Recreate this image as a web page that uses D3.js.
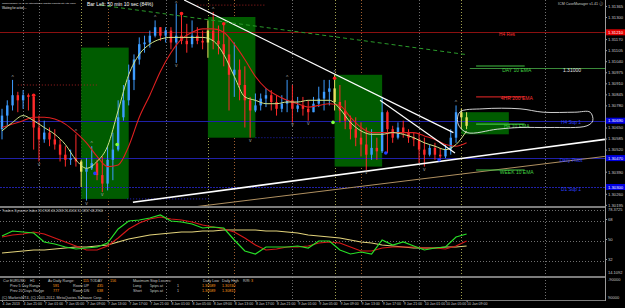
<!DOCTYPE html>
<html lang="en">
  <head>
    <script src="https://d3js.org/d3.v7.min.js"></script>
    <meta charset="UTF-8" />
    <title>EURUSD H1</title>
    <style>
      body { margin: 0; background: #000; }
      svg text { font-family: "Liberation Sans", Arial, sans-serif; }
    </style>
  </head>
  <body>
    <svg width="625" height="308"></svg>
    <script>
      // ---- data ----
      var timeLabels = ["4 Jan 2013", "4 Jan 21:00", "7 Jan 01:00", "7 Jan 05:00", "7 Jan 09:00", "7 Jan 13:00",
        "7 Jan 17:00", "7 Jan 21:00", "8 Jan 01:00", "8 Jan 05:00", "8 Jan 09:00", "8 Jan 13:00", "8 Jan 17:00",
        "8 Jan 21:00", "9 Jan 01:00", "9 Jan 05:00", "9 Jan 09:00", "9 Jan 13:00", "9 Jan 17:00", "9 Jan 21:00",
        "10 Jan 01:00", "10 Jan 05:00", "10 Jan 09:00"];

      var priceTicks = [1.31365, 1.31300, 1.31235, 1.31170, 1.31105, 1.31040, 1.30975, 1.30910, 1.30845, 1.30780,
        1.30715, 1.30650, 1.30585, 1.30520, 1.30455, 1.30390, 1.30325, 1.30260, 1.30195];
      var tdiTicks = [68, 50, 32];

      // hourly bars [open, high, low, close]
      var candles = [
        [1.3064,1.3076,1.3058,1.3072],[1.3072,1.3081,1.3066,1.3078],[1.3078,1.3093,1.3075,1.3084],
        [1.3084,1.3086,1.3074,1.3081],[1.3081,1.3087,1.3076,1.3084],[1.3084,1.3085,1.3075,1.3083],
        [1.3083,1.3084,1.3052,1.3065],[1.3065,1.3072,1.3045,1.3058],[1.3058,1.3069,1.3056,1.3062],
        [1.3062,1.3065,1.3054,1.3058],[1.3058,1.3064,1.3052,1.3055],[1.3055,1.3058,1.3045,1.3049],
        [1.3049,1.3054,1.3042,1.3046],[1.3046,1.3052,1.3043,1.3047],[1.3047,1.3061,1.3042,1.3045],
        [1.3045,1.3046,1.3030,1.3039],[1.3039,1.3047,1.3022,1.3041],[1.3041,1.3054,1.3040,1.3044],
        [1.3044,1.3046,1.3034,1.3037],[1.3037,1.3048,1.3027,1.3032],[1.3032,1.3054,1.3028,1.3046],
        [1.3046,1.3062,1.3034,1.3052],[1.3052,1.3081,1.3051,1.3071],[1.3071,1.3090,1.3069,1.3081],
        [1.3081,1.3102,1.3078,1.3093],[1.3093,1.3108,1.3087,1.3105],[1.3105,1.3118,1.3102,1.3114],
        [1.3114,1.3119,1.3109,1.3115],[1.3115,1.3122,1.3112,1.3119],[1.3119,1.3128,1.3118,1.3124],
        [1.3124,1.3124,1.3116,1.3119],[1.3119,1.3124,1.3115,1.3122],[1.3122,1.3124,1.3111,1.3115],
        [1.3115,1.3138,1.3103,1.3119],[1.3119,1.3132,1.3114,1.3116],[1.3116,1.3126,1.3109,1.3114],
        [1.3114,1.3128,1.3112,1.3119],[1.3119,1.3124,1.3114,1.3116],[1.3116,1.3122,1.3111,1.3115],
        [1.3115,1.3128,1.3106,1.3122],[1.3122,1.3133,1.3111,1.3116],[1.3116,1.3125,1.3108,1.3114],
        [1.3114,1.3126,1.3101,1.3108],[1.3108,1.3118,1.3075,1.3096],[1.3096,1.3115,1.3083,1.3099],
        [1.3099,1.3105,1.3081,1.3090],[1.3090,1.3101,1.3065,1.3081],[1.3081,1.3083,1.3059,1.3075],
        [1.3075,1.3085,1.3074,1.3078],[1.3078,1.3085,1.3075,1.3082],[1.3082,1.3088,1.3077,1.3084],
        [1.3084,1.3087,1.3075,1.3080],[1.3080,1.3084,1.3072,1.3076],[1.3076,1.3084,1.3074,1.3079],
        [1.3079,1.3093,1.3074,1.3081],[1.3081,1.3090,1.3068,1.3076],[1.3076,1.3083,1.3074,1.3078],
        [1.3078,1.3083,1.3072,1.3076],[1.3076,1.3081,1.3069,1.3074],[1.3074,1.3083,1.3074,1.3079],
        [1.3079,1.3089,1.3077,1.3082],[1.3082,1.3093,1.3075,1.3086],[1.3086,1.3093,1.3078,1.3088],
        [1.3088,1.3096,1.3075,1.3080],[1.3080,1.3090,1.3068,1.3075],[1.3075,1.3081,1.3064,1.3069],
        [1.3069,1.3072,1.3058,1.3064],[1.3064,1.3071,1.3054,1.3059],[1.3059,1.3068,1.3048,1.3055],
        [1.3055,1.3065,1.3040,1.3049],[1.3049,1.3064,1.3046,1.3053],[1.3053,1.3059,1.3046,1.3051],
        [1.3051,1.3083,1.3050,1.3074],[1.3074,1.3075,1.3050,1.3064],[1.3064,1.3066,1.3056,1.3059],
        [1.3059,1.3068,1.3058,1.3065],[1.3065,1.3069,1.3059,1.3062],[1.3062,1.3064,1.3056,1.3059],
        [1.3059,1.3062,1.3054,1.3058],[1.3058,1.3062,1.3044,1.3052],[1.3052,1.3059,1.3042,1.3049],
        [1.3049,1.3055,1.3048,1.3053],[1.3053,1.3056,1.3046,1.3049],[1.3049,1.3053,1.3046,1.3048],
        [1.3048,1.3055,1.3047,1.3052],[1.3052,1.3064,1.3049,1.3059],[1.3059,1.3078,1.3056,1.3074],
        [1.3074,1.3076,1.3064,1.3071],[1.3071,1.3074,1.3064,1.3066]
      ];
      var highlightBars = [15, 39, 63, 87, 88];

      // moving averages, one value every 2 bars
      var fastMA = [1.3063,1.3068,1.3072,1.3069,1.3065,1.3061,1.3055,1.3046,1.3041,1.3045,
        1.3054,1.3075,1.3096,1.3108,1.3114,1.3117,1.3118,1.3118,1.3118,1.3118,
        1.3116,1.3108,1.3095,1.3083,1.3081,1.3079,1.3079,1.3080,1.3080,1.3081,
        1.3081,1.3081,1.3076,1.3068,1.3063,1.3061,1.3061,1.3062,1.3061,1.3059,
        1.3056,1.3054,1.3052,1.3055,1.3063];
      var slowMA = [1.3065,1.3067,1.3069,1.3071,1.3071,1.3070,1.3067,1.3062,1.3056,1.3048,
        1.3042,1.3043,1.3054,1.3071,1.3084,1.3098,1.3109,1.3117,1.3121,1.3123,
        1.3123,1.3121,1.3114,1.3105,1.3095,1.3088,1.3084,1.3081,1.3079,1.3077,
        1.3078,1.3079,1.3078,1.3071,1.3065,1.3062,1.3062,1.3062,1.3062,1.3062,
        1.3060,1.3058,1.3055,1.3054,1.3056];

      // Traders Dynamic Index, one value every 2 bars
      var tdiGreen = [52.7,57.2,56.3,55.4,47.3,45.5,42.8,41.0,41.9,42.8,46.4,59.0,66.2,67.1,68.9,71.6,66.2,65.3,63.5,59.9,
        60.8,59.9,49.1,39.2,36.5,42.8,42.8,42.8,43.7,41.9,48.2,48.2,40.1,36.5,38.3,36.5,49.1,44.6,47.3,43.7,
        40.1,41.9,42.8,51.8,54.5];
      var tdiRed = [51.8,53.6,54.5,56.3,54.5,50.9,47.3,43.7,40.1,40.1,43.7,50.9,59.0,64.4,68.0,69.8,68.0,67.1,65.3,62.6,
        60.8,59.0,56.3,50.9,44.6,40.1,41.0,42.8,42.8,43.7,46.4,47.3,46.4,42.8,39.2,39.2,41.9,42.8,42.8,42.8,
        41.9,41.9,41.0,43.7,48.2];
      var tdiYellow = [37.4,38.3,39.2,40.1,40.1,41.0,41.9,42.8,42.8,43.7,44.6,47.3,50.0,51.8,53.6,54.5,55.4,56.3,56.3,57.2,
        57.2,58.1,58.1,58.1,58.1,57.2,57.2,56.3,55.4,53.6,52.7,51.8,50.9,49.1,47.3,46.4,44.6,43.7,42.8,41.9,
        41.9,41.9,42.8,42.8,43.7];

      // London session boxes (start bar, end bar, high, low)
      var sessionStart = [15, 39, 63, 87];
      var sessionEnd = [24, 48, 72, 96];
      var sessionHigh = [1.3112, 1.3130, 1.3096, 1.3074];
      var sessionLow = [1.3023, 1.3059, 1.3042, 1.3061];

      // pivot levels and EMA markers
      var pivotNames = ["H4 Res", "H4 Sup 1", "Daily Pivot", "D1 Sup 1"];
      var pivotPrices = [1.3121, 1.3069, 1.3047, 1.3030];
      var emaNames = ["DAY 10 EMA", "4HR 200 EMA", "H4 10 EMA", "WEEK 10 EMA"];
      var emaPrices = [1.3100, 1.3083, 1.3067, 1.3040];

      // drawn trend lines [bar, price] -> [bar, price]
      var trendWhite = [[[34.5, 1.3140], [85.5, 1.3062]], [[71.6, 1.3081], [85.8, 1.3050]], [[24.8, 1.3021], [114.2, 1.3058]]];
      var trendTan = [[35.6, 1.3018], [114.2, 1.3048]];
      var trendGreen = [[18.6, 1.3137], [87.7, 1.3108]];
      var ovalPoints = [[86.7,1.3074],[91.1,1.3076],[98.1,1.3076],[102.5,1.3074],[108.5,1.3074],[111.4,1.3074],
        [111.9,1.3069],[110.8,1.3066],[103.8,1.3065],[98.1,1.3065],[93.8,1.3064],[88.1,1.3062],[86.4,1.3067]];

      // fractal arrows and signal dots
      var fractalUp = [2, 14, 17, 29, 33, 40, 54, 63, 86];
      var fractalDown = [7, 16, 19, 33, 47, 55, 58, 69, 80];
      var redDots = [[6, 1.3084], [34, 1.3132], [42, 1.3126], [63, 1.3094]];
      var blueDots = [[17.6, 1.3038], [72.7, 1.3050], [82.8, 1.3046]];
      var greenDots = [[21.8, 1.3055], [62.7, 1.3068]];

      var dayBars = [7, 31, 55, 79];
      var londonBars = [15, 39, 63, 87];
      var nyBars = [20, 44, 68];

      // ---- scales ----
      var svg = d3.select("svg");
      svg.append("rect").attr("width", 625).attr("height", 308).attr("fill", "#000");

      var x = d3.scaleLinear().domain([0, 88]).range([2, 466.6]);
      var yP = d3.scaleLinear().domain([1.3019, 1.3140]).range([205.7, 0]);
      var yT = d3.scaleLinear().domain([16.7, 77.9]).range([276, 208]);
      var axisX = 605;

      var defs = svg.append("defs");
      defs.append("clipPath").attr("id", "cm").append("rect").attr("width", axisX).attr("height", 206);
      defs.append("clipPath").attr("id", "ci").append("rect").attr("y", 207).attr("width", axisX).attr("height", 69);

      var main = svg.append("g").attr("clip-path", "url(#cm)");
      var ind = svg.append("g").attr("clip-path", "url(#ci)");

      // vertical separators in all panels
      function vlines(bars, color) {
        [[main, 0, 206], [ind, 207, 276], [svg, 277, 300]].forEach(function (p) {
          p[0].selectAll(null).data(bars).enter().append("line")
            .attr("x1", function (d) { return Math.round(x(d)) + 0.5; })
            .attr("x2", function (d) { return Math.round(x(d)) + 0.5; })
            .attr("y1", p[1]).attr("y2", p[2])
            .attr("stroke", color).attr("stroke-width", 1).attr("stroke-dasharray", "1,2");
        });
      }
      vlines(dayBars.concat([4, 102.9]), "#707070");
      vlines(londonBars, "#a0a050");
      vlines(nyBars, "#a06030");

      // session boxes
      main.selectAll(".sess").data(sessionStart).enter().append("rect")
        .attr("x", function (d) { return x(d); })
        .attr("width", function (d, i) { return x(sessionEnd[i]) - x(d); })
        .attr("y", function (d, i) { return yP(sessionHigh[i]); })
        .attr("height", function (d, i) { return yP(sessionLow[i]) - yP(sessionHigh[i]); })
        .attr("fill", "#005c00");

      // pivot lines
      main.selectAll(".piv").data(pivotPrices).enter().append("line")
        .attr("x1", 0).attr("x2", axisX)
        .attr("y1", function (d) { return Math.round(yP(d)) + 0.5; })
        .attr("y2", function (d) { return Math.round(yP(d)) + 0.5; })
        .attr("stroke", function (d, i) { return i == 0 ? "#8b1010" : "#2020a8"; })
        .attr("stroke-dasharray", function (d, i) { return i == 3 ? "2,1" : null; });

      // short dotted previous-range marks
      main.append("line").attr("x1", x(3)).attr("x2", x(18)).attr("y1", yP(1.3090)).attr("y2", yP(1.3090))
        .attr("stroke", "#a02020").attr("stroke-dasharray", "1,2");
      main.append("line").attr("x1", x(37)).attr("x2", x(50)).attr("y1", yP(1.3137)).attr("y2", yP(1.3137))
        .attr("stroke", "#a02020").attr("stroke-dasharray", "1,2");
      main.append("line").attr("x1", x(48)).attr("x2", x(63)).attr("y1", yP(1.3059)).attr("y2", yP(1.3059))
        .attr("stroke", "#2020c0").attr("stroke-dasharray", "1,2");
      main.append("line").attr("x1", x(23.7)).attr("x2", x(39.4)).attr("y1", yP(1.3023)).attr("y2", yP(1.3023))
        .attr("stroke", "#2020c0").attr("stroke-dasharray", "1,2");

      // candles
      var bars = main.append("g");
      candles.forEach(function (c, i) {
        var col = c[3] >= c[0] ? "#3d9cff" : "#ff2a2a";
        if (highlightBars.indexOf(i) >= 0) col = "#e8e060";
        var cx = x(i);
        bars.append("line").attr("x1", cx).attr("x2", cx)
          .attr("y1", yP(c[1])).attr("y2", yP(c[2]))
          .attr("stroke", col).attr("stroke-width", 1);
        var top = Math.min(yP(c[0]), yP(c[3]));
        bars.append("rect").attr("x", cx - 1.2).attr("width", 2.4)
          .attr("y", top).attr("height", Math.max(1, Math.abs(yP(c[0]) - yP(c[3]))))
          .attr("fill", col);
      });

      // moving averages
      var maLine = d3.line()
        .x(function (d, k) { return x(2 * k); })
        .y(function (d) { return yP(d); })
        .curve(d3.curveMonotoneX);
      main.append("path").attr("d", maLine(slowMA)).attr("fill", "none").attr("stroke", "#e02020").attr("stroke-width", 1.1);
      main.append("path").attr("d", maLine(fastMA)).attr("fill", "none").attr("stroke", "#cfe58a").attr("stroke-width", 1);

      // trend lines
      function seg(pair) {
        return "M" + x(pair[0][0]) + "," + yP(pair[0][1]) + "L" + x(pair[1][0]) + "," + yP(pair[1][1]);
      }
      trendWhite.forEach(function (t, i) {
        main.append("path").attr("d", seg(t)).attr("stroke", "#ffffff").attr("stroke-width", i == 2 ? 1.6 : 1.2);
      });
      main.append("path").attr("d", seg(trendTan)).attr("stroke", "#b09060").attr("stroke-width", 1);
      main.append("path").attr("d", seg(trendGreen)).attr("stroke", "#2a9a2a").attr("stroke-width", 1)
        .attr("stroke-dasharray", "4,3");

      // EMA markers
      main.append("line").attr("x1", x(88.6)).attr("x2", axisX)
        .attr("y1", Math.round(yP(emaPrices[0])) + 0.5).attr("y2", Math.round(yP(emaPrices[0])) + 0.5)
        .attr("stroke", "#3a8a3a");
      main.selectAll(".ema").data(emaPrices).enter().append("line")
        .attr("x1", x(89.8)).attr("x2", x(99))
        .attr("y1", function (d, i) { return yP(d) - (i == 0 ? 2 : 0); })
        .attr("y2", function (d, i) { return yP(d) - (i == 0 ? 2 : 0); })
        .attr("stroke", function (d, i) { return i == 1 ? "#c02020" : "#40c040"; })
        .attr("stroke-width", 1.2);
      main.selectAll(".emat").data(emaNames).enter().append("text")
        .attr("x", x(97.5))
        .attr("y", function (d, i) { return yP(emaPrices[i]) + 3.5; })
        .attr("text-anchor", "middle").attr("font-size", 5)
        .attr("fill", function (d, i) { return i == 1 ? "#ff3030" : "#40d040"; })
        .text(function (d) { return d; });
      main.append("text").attr("x", 572).attr("y", yP(emaPrices[0]) + 3.5).attr("text-anchor", "middle")
        .attr("font-size", 5).attr("fill", "#e0e0e0").text(d3.format(".5f")(emaPrices[0]));

      // pivot labels
      main.selectAll(".pivt").data(pivotNames).enter().append("text")
        .attr("x", function (d, i) { return i == 0 ? 507 : 571; })
        .attr("y", function (d, i) { return yP(pivotPrices[i]) + 3.5; })
        .attr("text-anchor", "middle").attr("font-size", 4.8)
        .attr("fill", function (d, i) { return i == 0 ? "#ff3030" : "#3040ff"; })
        .text(function (d) { return d; });

      // hand drawn oval
      main.append("path")
        .attr("d", d3.line().x(function (d) { return x(d[0]); }).y(function (d) { return yP(d[1]); })
          .curve(d3.curveCatmullRomClosed)(ovalPoints))
        .attr("fill", "none").attr("stroke", "#e8e8e8").attr("stroke-width", 0.9);

      // fractals & dots
      main.selectAll(".fu").data(fractalUp).enter().append("text")
        .attr("x", function (d) { return x(d); })
        .attr("y", function (d) { return Math.max(4.5, yP(candles[d][1]) - 1); })
        .attr("text-anchor", "middle").attr("font-size", 5).attr("fill", "#a0a0a0").text("^");
      main.selectAll(".fd").data(fractalDown).enter().append("text")
        .attr("x", function (d) { return x(d); }).attr("y", function (d) { return yP(candles[d][2]) + 4; })
        .attr("text-anchor", "middle").attr("font-size", 5).attr("fill", "#a0a0a0").text("v");
      [[redDots, "#ff2020"], [blueDots, "#2040ff"], [greenDots, "#80ff40"]].forEach(function (g) {
        main.selectAll(null).data(g[0]).enter().append("circle")
          .attr("cx", function (d) { return x(d[0]); }).attr("cy", function (d) { return yP(d[1]); })
          .attr("r", 1.8).attr("fill", g[1]);
      });

      // ---- TDI panel ----
      ind.selectAll(".tg").data([77.9].concat(tdiTicks)).enter().append("line")
        .attr("x1", 0).attr("x2", axisX)
        .attr("y1", function (d) { return Math.round(yT(d)) + 2.5; })
        .attr("y2", function (d) { return Math.round(yT(d)) + 2.5; })
        .attr("stroke", "#707070").attr("stroke-dasharray", "1,2");
      var tdiLine = d3.line().x(function (d, k) { return x(2 * k); }).y(function (d) { return yT(d); });
      ind.append("path").attr("d", tdiLine(tdiYellow)).attr("fill", "none").attr("stroke", "#e2d27a").attr("stroke-width", 1.2);
      ind.append("path").attr("d", tdiLine(tdiRed)).attr("fill", "none").attr("stroke", "#d41818").attr("stroke-width", 1.2);
      ind.append("path").attr("d", tdiLine(tdiGreen)).attr("fill", "none").attr("stroke", "#28e028").attr("stroke-width", 1.2);
      svg.append("text").attr("x", 2).attr("y", 211.5).attr("font-size", 3.4).attr("fill", "#c8c8c8")
        .text("Traders Dynamic Index 33.1908 46.2458 26.2034 51.5857 48.2900");

      // ---- frames and axes ----
      [206.5, 207.5, 276.5, 277.5, 300.5].forEach(function (yy) {
        svg.append("line").attr("x1", 0).attr("x2", axisX).attr("y1", yy).attr("y2", yy)
          .attr("stroke", "#9a9a9a").attr("stroke-width", 0.8);
      });
      svg.append("line").attr("x1", axisX + 0.5).attr("x2", axisX + 0.5).attr("y1", 0).attr("y2", 301)
        .attr("stroke", "#9a9a9a");

      // price ticks hidden behind a level box are left out
      var freeTicks = priceTicks.filter(function (p) {
        return pivotPrices.every(function (q) { return Math.abs(yP(p) - yP(q)) > 5; });
      });
      var pAxis = svg.append("g").attr("transform", "translate(" + axisX + ",0)")
        .call(d3.axisRight(yP).tickValues(freeTicks).tickSize(2).tickFormat(d3.format(".5f")));
      var tAxis = svg.append("g").attr("transform", "translate(" + axisX + ",0)")
        .call(d3.axisRight(yT).tickValues(tdiTicks).tickSize(2).tickFormat(d3.format("d")));
      [pAxis, tAxis].forEach(function (a) {
        a.select(".domain").remove();
        a.selectAll("line").attr("stroke", "#9a9a9a");
        a.selectAll("text").attr("x", 3).attr("font-size", 4.2).attr("fill", "#c8c8c8")
          .attr("font-family", "Liberation Sans, Arial, sans-serif");
      });
      [["78.3725", 211], ["14.1092", 273.5], ["-90000", 281], ["90000", 299]].forEach(function (t) {
        svg.append("text").attr("x", axisX + 3).attr("y", t[1]).attr("font-size", 4).attr("fill", "#c8c8c8").text(t[0]);
      });

      // price boxes
      var boxes = svg.append("g");
      pivotPrices.forEach(function (p, i) {
        boxes.append("rect").attr("x", axisX + 1).attr("y", yP(p) - 3).attr("width", 19).attr("height", 6)
          .attr("fill", i == 0 ? "#e00000" : "#0000e0");
        boxes.append("text").attr("x", axisX + 3).attr("y", yP(p) + 1.6).attr("font-size", 4.2)
          .attr("fill", "#ffffff").text(d3.format(".5f")(p));
      });

      // time axis
      var ta = svg.append("g").attr("transform", "translate(0,300.5)")
        .call(d3.axisBottom(x).tickValues(d3.range(0, 89, 4)).tickSize(1.5)
          .tickFormat(function (d) { return timeLabels[d / 4]; }));
      ta.select(".domain").remove();
      ta.selectAll("line").attr("stroke", "#9a9a9a");
      ta.selectAll("text").attr("text-anchor", "start").attr("y", 4.6).attr("dy", 0).attr("font-size", 3.5)
        .attr("fill", "#c8c8c8").attr("font-family", "Liberation Sans, Arial, sans-serif");

      // ---- header texts ----
      svg.append("text").attr("x", 2).attr("y", 3.6).attr("font-size", 2.5).attr("fill", "#e0e0e0")
        .text("CaseManager v1.41 on International Capital Markets Pty Ltd (ICM)");
      svg.append("text").attr("x", 2).attr("y", 8.6).attr("font-size", 2.9).attr("fill", "#e0e0e0")
        .text("Waiting for action...");
      svg.append("text").attr("x", 87).attr("y", 6.2).attr("font-size", 5).attr("fill", "#ffffff")
        .text("Bar Left: 50 min 10 sec (84%)");
      svg.append("text").attr("x", 603).attr("y", 4.5).attr("text-anchor", "end").attr("font-size", 3.6)
        .attr("fill", "#c8c8c8").text("ICM CaseManager v1.41 \u24d8");

      // ---- info block ----
      var info = svg.append("g").attr("font-size", 3.7);
      function t(xx, yy, s, c) { info.append("text").attr("x", xx).attr("y", yy).attr("fill", c || "#c8c8c8").text(s); }
      var org = "#ff9a1a";
      t(3, 282, "Cur EURUSD"); t(30, 282, "H1"); t(48, 282, "Av Daily Range:"); t(83, 282, "115", org);
      t(90, 282, "TODAY"); t(110, 282, "156", org); t(133, 282, "Maximum Stop Losses:");
      t(203, 282, "Daily Low"); t(222, 282, "Daily High"); t(243, 282, "R/R:"); t(251, 282, "3", org);
      t(10, 287, "Prev 5 Day Range"); t(53, 287, "591", org); t(73, 287, "Room UP"); t(97, 287, "435", org);
      t(133, 287, "Long"); t(150, 287, "5pips at"); t(177, 287, "1"); t(202, 287, "1.30589", org); t(222, 287, "1.30740", org);
      t(10, 292, "Prev 20 Days Range"); t(53, 292, "777", org); t(73, 292, "Room DN"); t(97, 292, "638", org);
      t(133, 292, "Short"); t(150, 292, "5pips at"); t(177, 292, "1"); t(202, 292, "1.30589", org); t(222, 292, "1.30815", org);
      t(2, 298.5, "(C) MarketsMT4, (C) 2001-2012, MetaQuotes Software Corp.");
    </script>
  </body>
</html>
